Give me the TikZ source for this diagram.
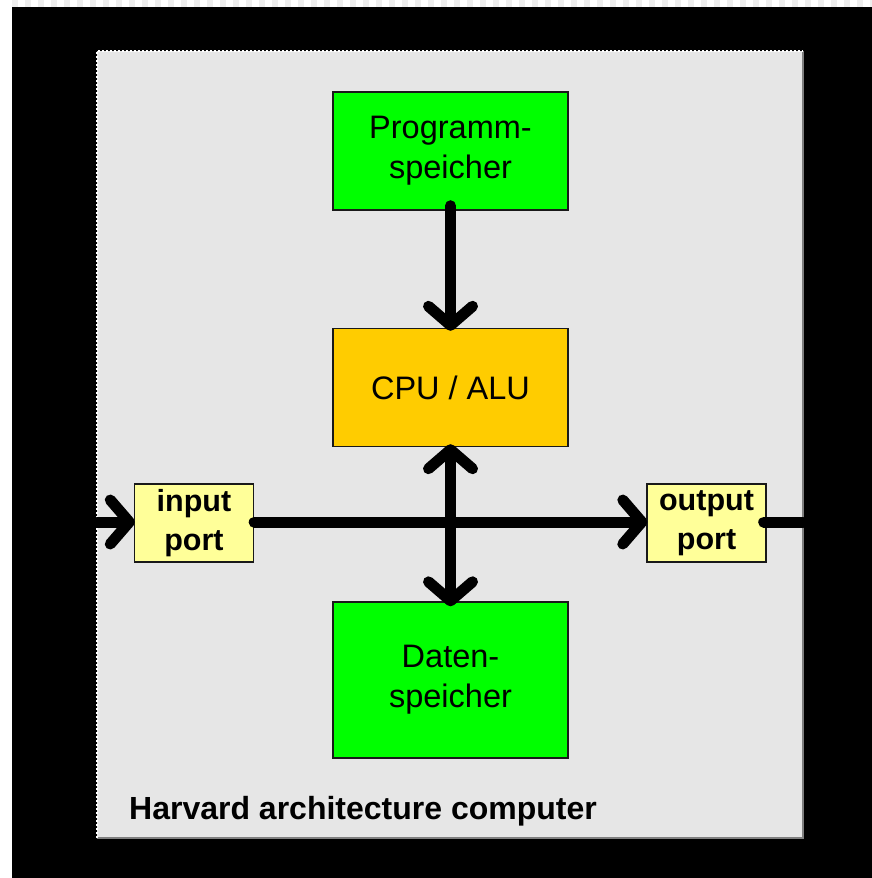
\documentclass[tikz,border=0pt]{standalone}
\usepackage{fontspec}
\setmainfont{Liberation Sans}
\usetikzlibrary{arrows.meta}
\definecolor{panelgray}{HTML}{E6E6E6}
\definecolor{memgreen}{HTML}{00FF00}
\definecolor{cpuyellow}{HTML}{FFCC00}
\definecolor{portyellow}{HTML}{FFFF99}
\definecolor{edgegray}{HTML}{7F7F7F}
\definecolor{checkgray}{HTML}{EEEEEE}
\tikzset{
  block/.style={draw=black!90, line width=1.4pt, minimum width=235pt, minimum height=118pt,
    inner sep=0pt, align=center, font=\fontsize{32.5}{40}\selectfont},
  portbox/.style={draw=black!90, line width=1.4pt, fill=portyellow, minimum width=119pt,
    minimum height=78pt, inner sep=0pt, align=center, font=\fontsize{30.5}{39}\selectfont\bfseries},
  bus/.style={line width=11pt, line cap=round, line join=round},
  barb/.tip={Straight Barb[length=19pt, width=44pt, round]},
}
\begin{document}
\begin{tikzpicture}[x=1pt, y=-1pt]
\useasboundingbox (0,0) rectangle (872,878);
\fill[white] (0,0) rectangle (872,878);
\foreach \i in {0,...,66} { \fill[checkgray] (12+13*\i,0) rectangle (18+13*\i,7); }
\fill[black] (12,7) rectangle (872,878);
% panel
\fill[panelgray] (97,51) rectangle (803,838);
\draw[edgegray, line width=1.5pt] (803,51) -- (803,838) -- (97,838);
\draw[white, line width=1.6pt, dash pattern=on 1.6pt off 2.4pt] (97,838) -- (97,51) -- (803,51);
% blocks
\node[block, fill=memgreen] (prog) at (450.5,151) {Programm-\\speicher};
\node[block, fill=cpuyellow] (cpu) at (450.5,387.5) {CPU / ALU};
\node[block, fill=memgreen, minimum height=156pt] (dat) at (450.5,680) {Daten-\\speicher};
\node[portbox] (inp) at (194,523) {input\\port};
\node[portbox] (outp) at (706.5,523) {output\\port};
\coordinate (inL) at (97,522);
\coordinate (outR) at (803,522);
% connectors
\draw[bus, -barb] ([yshift=5pt]prog.south) -- ([yshift=-3pt]cpu.north);
\draw[bus, barb-barb] ([yshift=3pt]cpu.south) -- ([yshift=-5pt]dat.north);
\draw[bus, -barb] (inL) -- ([xshift=1pt]inp.west |- inL);
\draw[bus, -barb] (inp.east |- inL) -- ([xshift=1pt]outp.west |- inL);
\draw[bus] ([xshift=-3pt]outp.east |- inL) -- (outR);
% title
\node[anchor=base west, inner sep=0pt, font=\fontsize{32}{38}\selectfont\bfseries] (title) at (129,819) {Harvard architecture computer};
\end{tikzpicture}
\end{document}
